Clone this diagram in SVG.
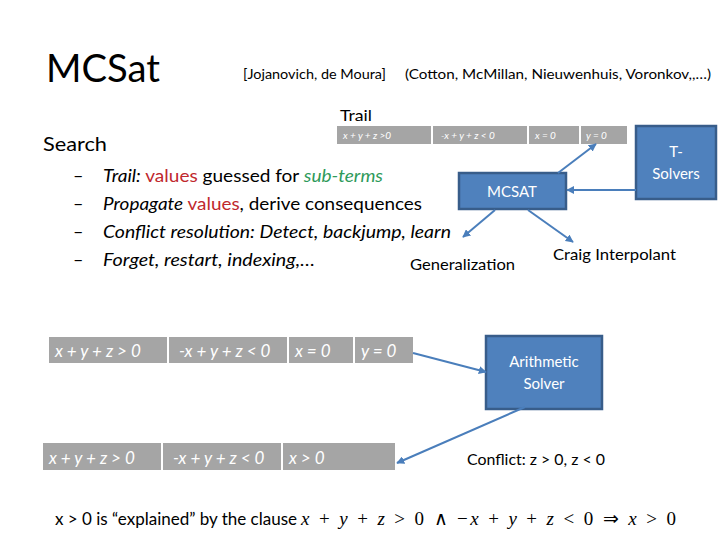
<svg xmlns="http://www.w3.org/2000/svg" width="720" height="540" viewBox="0 0 720 540">
<style>
text{font-family:"Lato","Liberation Sans",sans-serif;fill:#000}
.cell{fill:#A5A5A5}
.ct{fill:#fff;font-style:italic}
.sm{font-size:10px}
.bg{font-size:17px}
.blue{fill:#4F81BD;stroke:#385D8A;stroke-width:2.5}
.bt{fill:#fff;font-size:15px;text-anchor:middle}
.conn line{stroke:#4A7EBB;stroke-width:2;marker-end:url(#ah)}
.it{font-style:italic}
.red{fill:#C0282D}
.grn{fill:#2E9A5A;font-style:italic}
.math{font-family:"Liberation Serif",serif;font-size:19px}
</style>
<defs>
<marker id="ah" viewBox="0 0 10 10" refX="9" refY="5" markerWidth="4" markerHeight="4" orient="auto">
<path d="M0,0L10,5L0,10z" fill="#4A7EBB"/>
</marker>
</defs>
<rect width="720" height="540" fill="#fff"/>
<g id="title">
<text x="46" y="82" font-size="38" textLength="114" lengthAdjust="spacingAndGlyphs">MCSat</text>
<text x="243" y="79" font-size="14" textLength="143" lengthAdjust="spacingAndGlyphs">[Jojanovich, de Moura]</text>
<text x="405" y="79" font-size="14" textLength="306" lengthAdjust="spacingAndGlyphs">(Cotton, McMillan, Nieuwenhuis, Voronkov,,…)</text>
</g>
<g id="search">
<text x="43" y="151" font-size="20" textLength="64" lengthAdjust="spacingAndGlyphs">Search</text>
<text x="73" y="182" font-size="18">–</text>
<text x="73" y="210" font-size="18">–</text>
<text x="73" y="238" font-size="18">–</text>
<text x="73" y="266" font-size="18">–</text>
<text x="103" y="182" font-size="18" textLength="280" lengthAdjust="spacingAndGlyphs"><tspan class="it">Trail:</tspan> <tspan class="red">values</tspan> guessed for <tspan class="grn">sub-terms</tspan></text>
<text x="103" y="210" font-size="18" textLength="319" lengthAdjust="spacingAndGlyphs"><tspan class="it">Propagate</tspan> <tspan class="red">values</tspan>, derive consequences</text>
<text x="103" y="238" font-size="18" class="it" textLength="348" lengthAdjust="spacingAndGlyphs">Conflict resolution: Detect, backjump, learn</text>
<text x="103" y="266" font-size="18" class="it" textLength="212" lengthAdjust="spacingAndGlyphs">Forget, restart, indexing,…</text>
</g>
<g id="trail-small">
<text x="340" y="121" font-size="16" textLength="32" lengthAdjust="spacingAndGlyphs">Trail</text>
<rect class="cell" x="337" y="126" width="94" height="18"/>
<rect class="cell" x="433" y="126" width="94" height="18"/>
<rect class="cell" x="529" y="126" width="50" height="18"/>
<rect class="cell" x="581" y="126" width="46" height="18"/>
<text class="ct sm" x="343" y="139">x + y + z &gt;0</text>
<text class="ct sm" x="441" y="139">-x + y + z &lt; 0</text>
<text class="ct sm" x="535" y="139">x = 0</text>
<text class="ct sm" x="586" y="139">y = 0</text>
</g>
<g id="tsolvers">
<rect class="blue" x="636" y="126" width="80" height="73"/>
<text class="bt" x="676" y="157">T-</text>
<text class="bt" x="676" y="179">Solvers</text>
</g>
<g id="mcsat">
<rect class="blue" x="459" y="173" width="107" height="36"/>
<text class="bt" x="512" y="197" font-size="16">MCSAT</text>
</g>
<g id="labels">
<text x="410" y="270" font-size="15" textLength="105" lengthAdjust="spacingAndGlyphs">Generalization</text>
<text x="553" y="260" font-size="15" textLength="123" lengthAdjust="spacingAndGlyphs">Craig Interpolant</text>
<text x="467" y="465" font-size="15" textLength="138" lengthAdjust="spacingAndGlyphs">Conflict: z &gt; 0, z &lt; 0</text>
</g>
<g id="trail1">
<rect class="cell" x="49" y="337" width="118" height="26"/>
<rect class="cell" x="169" y="337" width="118" height="26"/>
<rect class="cell" x="289" y="337" width="64" height="26"/>
<rect class="cell" x="355" y="337" width="58" height="26"/>
<text class="ct bg" x="55" y="357">x + y + z &gt; 0</text>
<text class="ct bg" x="179" y="357">-x + y + z &lt; 0</text>
<text class="ct bg" x="295" y="357" font-style="normal">x = 0</text>
<text class="ct bg" x="361" y="357" font-style="normal">y = 0</text>
</g>
<g id="trail2">
<rect class="cell" x="43" y="443" width="118" height="27"/>
<rect class="cell" x="163" y="443" width="118" height="27"/>
<rect class="cell" x="283" y="443" width="112" height="27"/>
<text class="ct bg" x="49" y="464">x + y + z &gt; 0</text>
<text class="ct bg" x="173" y="464">-x + y + z &lt; 0</text>
<text class="ct bg" x="289" y="464">x &gt; 0</text>
</g>
<g id="arith">
<rect class="blue" x="486" y="336" width="116" height="73"/>
<text class="bt" x="544" y="367">Arithmetic</text>
<text class="bt" x="544" y="389">Solver</text>
</g>
<g class="conn" id="connectors">
<line x1="558" y1="173" x2="596" y2="144"/>
<line x1="636" y1="190" x2="567" y2="190"/>
<line x1="495" y1="210" x2="463" y2="237"/>
<line x1="528" y1="210" x2="573" y2="242"/>
<line x1="413" y1="353" x2="486" y2="372"/>
<line x1="525" y1="407" x2="397" y2="463"/>
</g>
<g id="footer">
<text x="55" y="525" font-size="17" textLength="242" lengthAdjust="spacingAndGlyphs">x &gt; 0 is “explained” by the clause</text>
<text class="math" x="301" y="525" textLength="375" lengthAdjust="spacing"><tspan font-style="italic">x</tspan> + <tspan font-style="italic">y</tspan> + <tspan font-style="italic">z</tspan> &gt; 0 ∧ −<tspan font-style="italic">x</tspan> + <tspan font-style="italic">y</tspan> + <tspan font-style="italic">z</tspan> &lt; 0 ⇒ <tspan font-style="italic">x</tspan> &gt; 0</text>
</g>
</svg>
